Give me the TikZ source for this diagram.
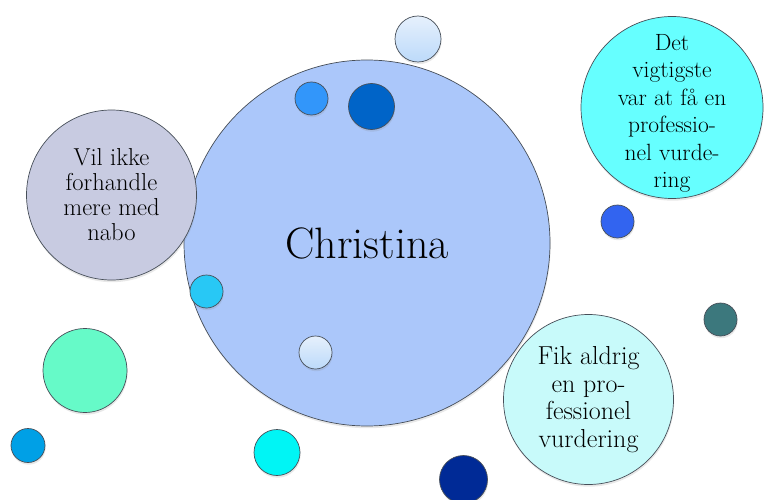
\documentclass[tikz,border=0pt]{standalone}
\usepackage{xcolor}
\usepackage{tikz}
\usetikzlibrary{shadows}

\definecolor{rimgray}{RGB}{70,78,88}
\definecolor{bigblue}{RGB}{171,199,250}
\definecolor{lavend}{RGB}{200,203,225}
\definecolor{aquabub}{RGB}{102,255,255}
\definecolor{paleaqua}{RGB}{200,250,250}
\definecolor{mint}{RGB}{102,250,200}
\definecolor{oceanblue}{RGB}{0,160,230}
\definecolor{brightcyan}{RGB}{0,245,245}
\definecolor{navy}{RGB}{0,42,150}
\definecolor{tealdot}{RGB}{60,120,125}
\definecolor{royal}{RGB}{50,100,240}
\definecolor{midblue}{RGB}{50,150,250}
\definecolor{deepblue}{RGB}{0,100,200}
\definecolor{skydot}{RGB}{40,200,245}
\definecolor{paletop}{RGB}{230,240,252}
\definecolor{palebot}{RGB}{188,218,250}

\begin{document}
\begin{tikzpicture}[
  x=1pt, y=-1pt,
  bub/.style={circle, draw=rimgray, line width=0.7pt, inner sep=0pt, align=center,
    drop shadow={shadow xshift=0.6pt, shadow yshift=-2.2pt, opacity=0.18}},
  dot/.style={circle, draw=rimgray, line width=0.7pt, inner sep=0pt,
    drop shadow={shadow xshift=0.6pt, shadow yshift=-2.2pt, opacity=0.18}},
  pale/.style={dot, top color=paletop, bottom color=palebot}
]
\useasboundingbox (0,0) rectangle (765,500);
% main bubble
\node[bub, fill=bigblue, minimum size=366pt, font=\fontsize{44}{50}\selectfont] (christina) at (367,243) {Christina};
% text bubbles
\node[bub, fill=lavend, minimum size=170pt, font=\fontsize{24.5}{25}\selectfont] (nabo) at (111.5,195) {Vil ikke\\forhandle\\mere med\\nabo};
\node[bub, fill=aquabub, minimum size=182pt] (vigtigst) at (672,107.5) {};
\node[align=center, font=\fontsize{23.5}{27.5}\selectfont] (vigtigstText) at ([yshift=-6pt]vigtigst.center) {Det\\vigtigste\\var at få en\\professio-\\nel vurde-\\ring};
\node[bub, fill=paleaqua, minimum size=170pt, font=\fontsize{26}{27.5}\selectfont] (aldrig) at (588.5,399.5) {Fik aldrig\\en pro-\\fessionel\\vurdering};
% small dots
\node[pale, minimum size=46pt] (topdot) at (418,39) {};
\node[dot, fill=midblue, minimum size=33pt] (dotA) at (311.5,98.5) {};
\node[dot, fill=deepblue, minimum size=46pt] (dotB) at (371.5,106.5) {};
\node[dot, fill=royal, minimum size=33pt] (dotC) at (617.5,221.5) {};
\node[dot, fill=tealdot, minimum size=33pt] (dotD) at (720.5,319.5) {};
\node[dot, fill=skydot, minimum size=33pt] (dotE) at (206.5,291.5) {};
\node[pale, minimum size=33pt] (dotF) at (315.5,352.5) {};
\node[dot, fill=mint, minimum size=84pt] (dotG) at (85,370.5) {};
\node[dot, fill=oceanblue, minimum size=34pt] (dotH) at (28,445.5) {};
\node[dot, fill=brightcyan, minimum size=46pt] (dotI) at (277,452.5) {};
\node[dot, fill=navy, minimum size=48pt] (dotJ) at (463.5,479.5) {};
\end{tikzpicture}
\end{document}
